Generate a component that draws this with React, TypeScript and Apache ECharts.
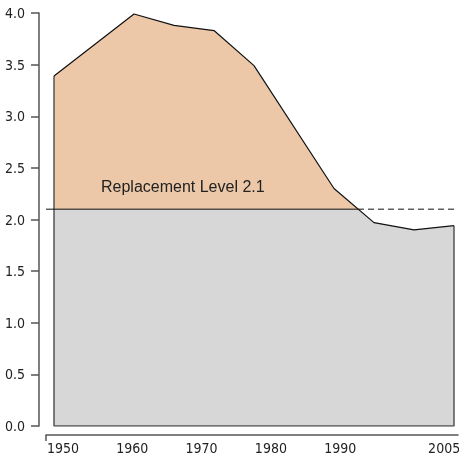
import React, { useEffect, useRef } from "react";
import * as echarts from "echarts";

// Data
const years = [1950, 1960, 1965, 1970, 1975, 1985, 1990, 1995, 2000];
const fertility = [3.39, 3.99, 3.88, 3.83, 3.49, 2.3, 1.97, 1.9, 1.94];
const xLabelYears = [1950, 1960, 1970, 1980, 1990, 2005];
const REPLACEMENT = 2.1;
const CROSS_YEAR = 1988;
const replacementText = "Replacement Level 2.1";

const DATA_X_MIN = 1949;
const DATA_X_MAX = 2000.5;
const LABEL_X_MIN = 1947.55;
const LABEL_X_MAX = 2007;

const PEACH = "#ecc8a9";
const GRAY = "#d7d7d7";
const AXIS = "#555";
const COND = "'Liberation Sans Narrow', 'DejaVu Sans Condensed', 'Arial Narrow', sans-serif";
const SANS = "'Liberation Sans', Arial, Helvetica, sans-serif";

export default function App() {
  const ref = useRef<HTMLDivElement>(null);
  useEffect(() => {
    const chart = echarts.init(ref.current!, null, { renderer: "svg" });
    const n = years.length;
    const pts = years.map((y, i) => [y, fertility[i]]);
    const top = Math.max(...fertility);
    const f = (top - REPLACEMENT) / top;
    const fill = new echarts.graphic.LinearGradient(0, 0, 0, 1, [
      { offset: 0, color: PEACH },
      { offset: f, color: PEACH },
      { offset: f, color: GRAY },
      { offset: 1, color: GRAY },
    ]);
    chart.setOption({
      animation: false,
      grid: { left: 46, right: 1, top: 13, bottom: 32, outerBoundsMode: "none", containLabel: false },
      xAxis: [
        { type: "value", min: DATA_X_MIN, max: DATA_X_MAX, show: false },
        {
          type: "value",
          min: LABEL_X_MIN,
          max: LABEL_X_MAX,
          position: "bottom",
          offset: 9,
          axisLine: { show: true, lineStyle: { color: AXIS, width: 1.5 } },
          axisTick: {
            show: true,
            customValues: [LABEL_X_MIN],
            length: 6,
            lineStyle: { color: AXIS, width: 1.5 },
          },
          axisLabel: {
            customValues: xLabelYears,
            margin: 6,
            fontSize: 14,
            color: "#222",
            fontFamily: COND,
            formatter: (v: number) => String(Math.round(v)),
          },
          splitLine: { show: false },
        },
      ],
      yAxis: {
        type: "value",
        min: 0,
        max: 4,
        interval: 0.5,
        offset: 7,
        axisLine: { show: true, lineStyle: { color: AXIS, width: 1.5 } },
        axisTick: { show: true, length: 8, lineStyle: { color: AXIS, width: 1.5 } },
        axisLabel: {
          margin: 14,
          fontSize: 14,
          color: "#222",
          fontFamily: COND,
          formatter: (v: number) => v.toFixed(1),
        },
        splitLine: { show: false },
      },
      series: [
        {
          type: "line",
          xAxisIndex: 0,
          data: pts,
          symbol: "none",
          lineStyle: { width: 0 },
          areaStyle: { opacity: 1, color: fill },
          silent: true,
          z: 1,
        },
        {
          type: "line",
          xAxisIndex: 0,
          data: [
            [years[0], fertility[0]],
            [years[0], 0],
            [years[n - 1], 0],
            [years[n - 1], fertility[n - 1]],
          ],
          symbol: "none",
          lineStyle: { color: AXIS, width: 1.5 },
          silent: true,
          z: 2,
        },
        {
          type: "line",
          xAxisIndex: 0,
          data: [
            [DATA_X_MIN, REPLACEMENT],
            [CROSS_YEAR, REPLACEMENT],
          ],
          symbol: "none",
          lineStyle: { color: "#111", width: 1 },
          silent: true,
          z: 3,
        },
        {
          type: "line",
          xAxisIndex: 0,
          data: [
            [CROSS_YEAR, REPLACEMENT],
            [DATA_X_MAX, REPLACEMENT],
          ],
          symbol: "none",
          lineStyle: { color: "#111", width: 1, type: [6, 4] },
          silent: true,
          z: 3,
        },
        {
          type: "line",
          xAxisIndex: 0,
          data: pts,
          symbol: "none",
          lineStyle: { color: "#111", width: 1.2 },
          silent: true,
          z: 4,
        },
      ],
      graphic: [
        {
          type: "text",
          left: 101,
          top: 178,
          z: 100,
          style: { text: replacementText, fontSize: 16, fill: "#222", fontFamily: SANS },
        },
      ],
    });
    return () => chart.dispose();
  }, []);
  return (
    <div
      ref={ref}
      style={{ position: "fixed", left: 0, top: 0, width: 459, height: 458 }}
    />
  );
}
